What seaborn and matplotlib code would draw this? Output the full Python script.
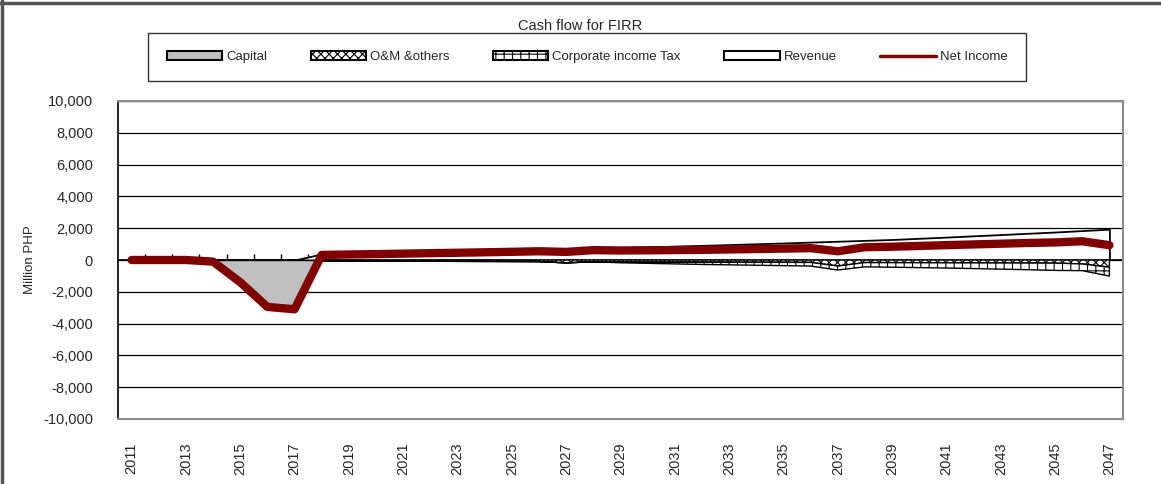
import numpy as np
import pandas as pd
import seaborn as sns
import matplotlib.pyplot as plt
from matplotlib.patches import Patch
from matplotlib.lines import Line2D
from matplotlib.ticker import FuncFormatter

years = list(range(2011, 2048))

capital = [0, 0, 0, -100, -1400, -2950, -3100,
           0, 0, 0, 0, 0, 0, 0, 0, 0, 0,
           0, 0, 0, 0, 0, 0, 0, 0, 0, 0,
           0, 0, 0, 0, 0, 0, 0, 0, 0, 0]

om_others = [0, 0, 0, 0, 0, 0, 0,
             -60, -65, -70, -75, -80, -85, -90, -95, -100, -180,
             -110, -115, -120, -125, -130, -135, -140, -145, -150, -380,
             -160, -165, -170, -175, -180, -185, -190, -195, -250, -450]

corp_tax = [0, 0, 0, 0, 0, 0, 0,
            0, 0, 0, 0, 0, 0, 0, 0, 0, 0,
            0, -60, -90, -120, -150, -170, -190, -210, -230, -250,
            -270, -290, -310, -330, -360, -390, -420, -460, -420, -560]

revenue = [0, 0, 0, 0, 0, 0, 0,
           380, 410, 440, 475, 510, 540, 575, 610, 650, 690,
           730, 775, 820, 870, 920, 970, 1020, 1070, 1125, 1180,
           1235, 1290, 1365, 1440, 1520, 1600, 1680, 1760, 1850, 1940]

net_income = [0, 0, 0, -100, -1400, -2950, -3100,
              320, 345, 370, 400, 430, 455, 485, 515, 550, 510,
              620, 600, 610, 625, 640, 665, 690, 715, 745, 550,
              805, 835, 885, 935, 980, 1025, 1070, 1105, 1180, 930]

sns.set_style('white')
plt.rcParams['font.family'] = ['Liberation Sans Narrow', 'Liberation Sans', 'DejaVu Sans']
plt.rcParams['hatch.linewidth'] = 0.8

df = pd.DataFrame({'year': years, 'capital': capital, 'om': om_others,
                   'tax': corp_tax, 'revenue': revenue, 'net': net_income})
df['pos'] = np.arange(len(df))

# negative items stack downward from zero
c1 = df['capital'].values
c2 = c1 + df['om'].values
c3 = c2 + df['tax'].values

fig = plt.figure(figsize=(11.61, 4.84), dpi=100)
ax = fig.add_axes([118 / 1161, 1 - 419 / 484, 1005 / 1161, 318 / 484])

ax.fill_between(df['pos'], 0, df['revenue'], facecolor='white', edgecolor='black', lw=1.3, zorder=2)
ax.fill_between(df['pos'], 0, c1, facecolor='#c0c0c0', edgecolor='black', lw=1.0, zorder=2)
ax.fill_between(df['pos'], c1, c2, facecolor='white', hatch='xxxx', edgecolor='black', lw=1.0, zorder=2)
ax.fill_between(df['pos'], c2, c3, facecolor='white', hatch='++', edgecolor='black', lw=1.0, zorder=2)

sns.lineplot(data=df, x='pos', y='net', color='#800000', lw=6, ax=ax, zorder=4,
             solid_capstyle='round', solid_joinstyle='round')

ax.set_xlim(-0.5, len(years) - 0.5)
ax.set_ylim(-10000, 10000)
ax.set_yticks(range(-10000, 10001, 2000))
ax.yaxis.set_major_formatter(FuncFormatter(lambda v, p: f'{int(v):,}'))
ax.yaxis.grid(True, color='black', lw=0.9)
ax.set_axisbelow(True)
ax.tick_params(axis='y', direction='out', length=5, width=1, color='black', labelsize=10.5, pad=13)
ax.set_ylabel('Million PHP', fontsize=9.5, labelpad=5)

ax.set_xticks(df['pos'][::2])
ax.set_xticklabels(df['year'][::2], rotation=90, fontsize=10.5)
ax.tick_params(axis='x', length=0, pad=17)
ax.set_xlabel('')

for s in ['top', 'right', 'bottom']:
    ax.spines[s].set_color('#8c8c8c')
    ax.spines[s].set_linewidth(1.5)
ax.spines['left'].set_color('black')
ax.spines['left'].set_linewidth(1.2)

# category axis crossing at zero
sec = ax.secondary_xaxis(0.5)
sec.set_xticks(np.arange(len(years) - 1) + 0.5)
sec.set_xticklabels([])
sec.tick_params(direction='out', length=4, width=1, color='black')
sec.spines['top'].set_color('black')
sec.spines['top'].set_linewidth(1.2)

fig.text(0.4996, 1 - 26 / 484, 'Cash flow for FIRR', ha='center', va='center', fontsize=10.5)

handles = [Patch(facecolor='#c0c0c0', edgecolor='black', lw=1.5),
           Patch(facecolor='white', hatch='xxxx', edgecolor='black', lw=1.5),
           Patch(facecolor='white', hatch='++', edgecolor='black', lw=1.5),
           Patch(facecolor='white', edgecolor='black', lw=1.5),
           Line2D([], [], color='#800000', lw=2.5)]
labels = ['Capital', 'O&M &others', 'Corporate income Tax', 'Revenue', 'Net Income']
leg = fig.legend(handles, labels, loc='center', bbox_to_anchor=(587 / 1161, 1 - 57 / 484),
                 ncol=5, frameon=True, fancybox=False, edgecolor='black', fontsize=9.5,
                 handlelength=4.2, handleheight=0.6, handletextpad=0.3, columnspacing=3.3,
                 borderpad=1.4)
leg.get_frame().set_linewidth(1.0)

fig.add_artist(Line2D([2 / 1161, 2 / 1161], [0, 1], color='#555555', lw=2.5, transform=fig.transFigure))
fig.add_artist(Line2D([0, 1], [1 - 3 / 484, 1 - 3 / 484], color='#555555', lw=2.5, transform=fig.transFigure))

fig.savefig('out.png', dpi=100)
